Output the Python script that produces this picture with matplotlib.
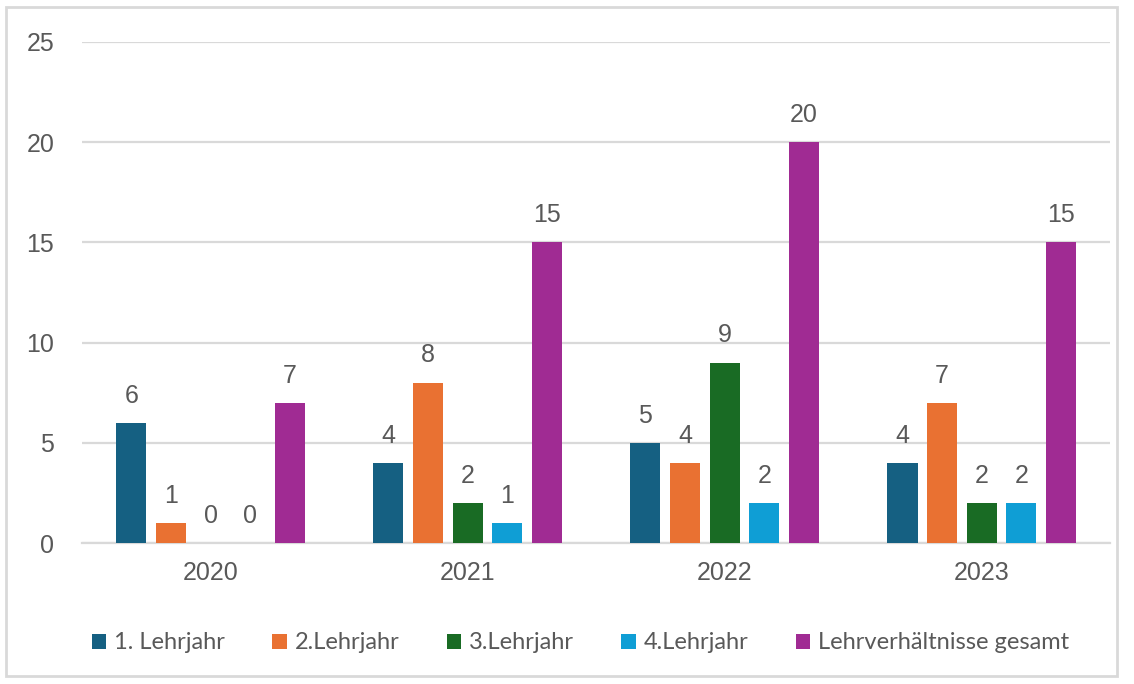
import numpy as np
import matplotlib
matplotlib.use("Agg")
import matplotlib.pyplot as plt
from matplotlib.patches import Rectangle

# === Data ===
years = ["2020", "2021", "2022", "2023"]
series_names = ["1. Lehrjahr", "2.Lehrjahr", "3.Lehrjahr", "4.Lehrjahr", "Lehrverhältnisse gesamt"]
lj1 = [6, 4, 5, 4]
lj2 = [1, 8, 4, 7]
lj3 = [0, 2, 9, 2]
lj4 = [0, 1, 2, 2]
gesamt = [7, 15, 20, 15]
colors = ["#156082", "#E97132", "#196B24", "#0F9ED5", "#A02B93"]

values = [lj1, lj2, lj3, lj4, gesamt]
text_color = "#595959"

plt.rcParams["font.family"] = ["Liberation Sans", "DejaVu Sans"]

fig = plt.figure(figsize=(11.34, 6.84), dpi=100)
ax = fig.add_axes([0.0723, 0.206, 0.9067, 0.7326])

x = np.arange(len(years))
pitch = 0.154
width = 0.117
for i, (vals, name, c) in enumerate(zip(values, series_names, colors)):
    pos = x + (i - 2) * pitch
    ax.bar(pos, vals, width=width, color=c, label=name, zorder=3)
    for p, v in zip(pos, vals):
        ax.annotate(str(v), (p, v), xytext=(0, 11), textcoords="offset points",
                    ha="center", va="bottom", fontsize=18, color=text_color)

ax.set_xlim(-0.5, 3.5)
ax.set_ylim(0, 25)
ax.set_yticks(range(0, 26, 5))
ax.set_xticks(x)
ax.set_xticklabels(years)
ax.tick_params(axis="both", length=0, labelsize=18, labelcolor=text_color)
ax.tick_params(axis="y", pad=20)
ax.tick_params(axis="x", pad=13)
ax.grid(axis="y", color="#D9D9D9", linewidth=1.6, zorder=0)
for s in ["top", "right", "left"]:
    ax.spines[s].set_visible(False)
ax.spines["bottom"].set_color("#D9D9D9")
ax.spines["bottom"].set_linewidth(1.6)

leg = fig.legend(loc="center", bbox_to_anchor=(0.512, 0.06), ncol=5, frameon=False,
                 prop={"family": "Lato", "size": 17}, handlelength=0.6, handleheight=0.6,
                 handletextpad=0.35, columnspacing=2.0)
for t in leg.get_texts():
    t.set_color(text_color)

# figure frame
fig.patches.append(Rectangle((0.005, 0.012), 0.98, 0.978, transform=fig.transFigure,
                             fill=False, edgecolor="#D9D9D9", linewidth=2))

plt.savefig("out.png", dpi=100)
plt.close()
